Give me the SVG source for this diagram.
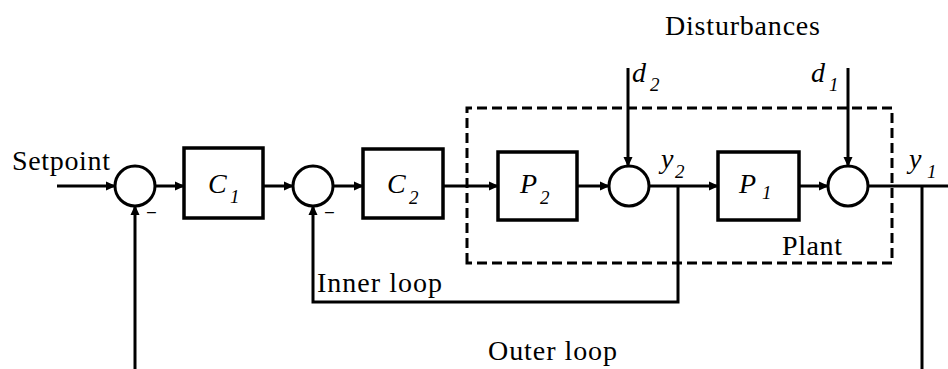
<svg xmlns="http://www.w3.org/2000/svg" width="948" height="369" viewBox="0 0 948 369">
<style>
.ln{fill:none;stroke:#000;stroke-width:3}
.bx{fill:#fff;stroke:#000;stroke-width:3.5}
.sum{fill:#fff;stroke:#000;stroke-width:3}
.dash{fill:none;stroke:#000;stroke-width:3;stroke-dasharray:10 5}
.t{font-family:'Liberation Serif','DejaVu Serif',serif;font-size:28px;fill:#000}
.it{font-family:'Liberation Serif','DejaVu Serif',serif;font-style:italic;font-size:28px;fill:#000}
.sub{font-size:19px}
.m{font-family:'Liberation Sans','DejaVu Sans',sans-serif;font-size:16px;fill:#000}
</style>
<defs>
<marker id="ah" markerUnits="userSpaceOnUse" markerWidth="10" markerHeight="10" refX="9" refY="5" orient="auto">
<path d="M0,0.5 L10,5 L0,9.5 z" fill="#000"/>
</marker>
</defs>
<rect width="948" height="369" fill="#fff"/>
<g id="plant-boundary">
<path class="dash" d="M467,263 L467,108 L892,108 L892,263 Z"/>
<text class="t" x="782" y="255" textLength="60">Plant</text>
</g>
<g id="connectors">
<line class="ln" x1="57" y1="186" x2="115" y2="186" marker-end="url(#ah)"/>
<line class="ln" x1="155" y1="186" x2="184" y2="186" marker-end="url(#ah)"/>
<line class="ln" x1="263" y1="186" x2="293" y2="186" marker-end="url(#ah)"/>
<line class="ln" x1="333" y1="186" x2="363" y2="186" marker-end="url(#ah)"/>
<line class="ln" x1="443" y1="186" x2="498" y2="186" marker-end="url(#ah)"/>
<line class="ln" x1="577" y1="186" x2="609" y2="186" marker-end="url(#ah)"/>
<line class="ln" x1="628" y1="68" x2="628" y2="166" marker-end="url(#ah)"/>
<line class="ln" x1="649" y1="186" x2="718" y2="186" marker-end="url(#ah)"/>
<line class="ln" x1="799" y1="186" x2="828" y2="186" marker-end="url(#ah)"/>
<line class="ln" x1="848" y1="68" x2="848" y2="166" marker-end="url(#ah)"/>
<line class="ln" x1="868" y1="186" x2="948" y2="186"/>
<line class="ln" x1="922" y1="186" x2="922" y2="369"/>
<line class="ln" x1="135" y1="369" x2="135" y2="206" marker-end="url(#ah)"/>
<path class="ln" d="M678,186 L678,302 L313,302 L313,206" marker-end="url(#ah)"/>
</g>
<g id="sum1"><circle class="sum" cx="135" cy="186" r="20"/><text class="m" x="147" y="217">–</text></g>
<g id="sum2"><circle class="sum" cx="313" cy="186" r="20"/><text class="m" x="325" y="217">–</text></g>
<g id="sum3"><circle class="sum" cx="629" cy="186" r="20"/></g>
<g id="sum4"><circle class="sum" cx="848" cy="186" r="20"/></g>
<g id="C1"><rect class="bx" x="184" y="148" width="79" height="70"/><text class="it" x="208" y="193">C<tspan class="sub" x="230" y="203">1</tspan></text></g>
<g id="C2"><rect class="bx" x="363" y="149" width="80" height="69"/><text class="it" x="387" y="193">C<tspan class="sub" x="409" y="204">2</tspan></text></g>
<g id="P2"><rect class="bx" x="498" y="152" width="79" height="68"/><text class="it" x="520" y="193">P<tspan class="sub" x="540" y="204">2</tspan></text></g>
<g id="P1"><rect class="bx" x="718" y="152" width="81" height="68"/><text class="it" x="739" y="193">P<tspan class="sub" x="762" y="199">1</tspan></text></g>
<g id="labels">
<text class="t" x="665" y="35" textLength="155">Disturbances</text>
<text class="t" x="12" y="170" textLength="98">Setpoint</text>
<text class="t" x="317" y="292" textLength="125">Inner loop</text>
<text class="t" x="488" y="360" textLength="129">Outer loop</text>
<text class="it" x="632" y="82">d<tspan class="sub" x="650" y="91">2</tspan></text>
<text class="it" x="811" y="82">d<tspan class="sub" x="829" y="91">1</tspan></text>
<text class="it" x="661" y="168">y<tspan class="sub" x="675" y="178">2</tspan></text>
<text class="it" x="909" y="168">y<tspan class="sub" x="927" y="178">1</tspan></text>
</g>
</svg>
